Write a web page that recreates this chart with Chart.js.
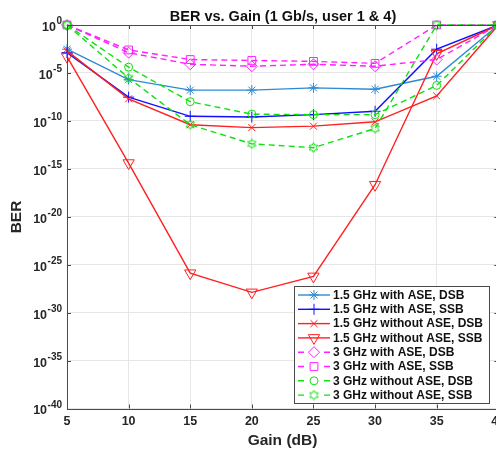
<!DOCTYPE html>
<html>
<head>
<meta charset="utf-8">
<script src="https://cdn.jsdelivr.net/npm/chart.js@4.4.1/dist/chart.umd.min.js"></script>
<style>
html,body{margin:0;padding:0;background:#fff;overflow:hidden;width:496px;height:449px;}
#wrap{position:absolute;left:0;top:0;width:506px;height:449px;}
</style>
</head>
<body>
<div id="wrap"><canvas id="c" width="506" height="449"></canvas></div>
<script>
// ---- data ----
const gains = [5, 10, 15, 20, 25, 30, 35, 40];
const xTicks = [5, 10, 15, 20, 25, 30, 35, 40];
const yTickExponents = [0, -5, -10, -15, -20, -25, -30, -35, -40];
const seriesNames = [
  '1.5 GHz with ASE, DSB',
  '1.5 GHz with ASE, SSB',
  '1.5 GHz without ASE, DSB',
  '1.5 GHz without ASE, SSB',
  '3 GHz with ASE, DSB',
  '3 GHz with ASE, SSB',
  '3 GHz without ASE, DSB',
  '3 GHz without ASE, SSB'
];
const ber15AseDsb   = [3e-3, 2e-6, 1.6e-7, 1.6e-7, 2.8e-7, 2e-7, 4.5e-6, 1];
const ber15AseSsb   = [1.3e-3, 3e-8, 3e-10, 2.5e-10, 4.5e-10, 1e-9, 3e-3, 1];
const ber15NoAseDsb = [2e-3, 2e-8, 4e-11, 2e-11, 2.8e-11, 8e-11, 4e-8, 1];
const ber15NoAseSsb = [5e-4, 4e-15, 1.3e-26, 1.3e-28, 6e-27, 2.2e-17, 1e-3, 1];
const ber3AseDsb    = [1, 1.3e-3, 8e-5, 5e-5, 8e-5, 5e-5, 2.5e-4, 1];
const ber3AseSsb    = [1, 2.5e-3, 2.5e-4, 2e-4, 1.6e-4, 1e-4, 1, 1];
const ber3NoAseDsb  = [1, 4e-5, 1e-8, 5e-10, 4.5e-10, 4.5e-10, 5e-7, 1];
const ber3NoAseSsb  = [1, 3e-6, 4e-11, 4e-13, 1.6e-13, 1.6e-11, 1, 1];

const allSeries = [ber15AseDsb, ber15AseSsb, ber15NoAseDsb, ber15NoAseSsb,
                   ber3AseDsb, ber3AseSsb, ber3NoAseDsb, ber3NoAseSsb];

// ---- styles ----
const colors = ['#2f8ad4', '#1010ff', '#ff2020', '#ff2020', '#ff22ff', '#ff22ff', '#10e010', '#10e010'];
const dashed = [false, false, false, false, true, true, true, true];
const FONT = '"Liberation Sans", Arial, Helvetica, sans-serif';

function hexagramCanvas(color) {
  const c = document.createElement('canvas');
  c.width = 11; c.height = 11;
  const g = c.getContext('2d');
  g.strokeStyle = color; g.lineWidth = 1;
  const cx = 5.5, cy = 5.5, R = 4.8, r = 2.8;
  g.beginPath();
  for (let i = 0; i < 12; i++) {
    const a = -Math.PI / 2 + i * Math.PI / 6;
    const rr = i % 2 === 0 ? R : r;
    const px = cx + rr * Math.cos(a), py = cy + rr * Math.sin(a);
    if (i === 0) g.moveTo(px, py); else g.lineTo(px, py);
  }
  g.closePath(); g.stroke();
  return c;
}
const hexImg = hexagramCanvas('#10e010');

const markers = [
  {style: 'star', r: 5, rot: 0},
  {style: 'cross', r: 5.5, rot: 0},
  {style: 'crossRot', r: 5, rot: 0},
  {style: 'triangle', r: 6.5, rot: 180},
  {style: 'rectRot', r: 5.5, rot: 0},
  {style: 'rect', r: 5.5, rot: 0},
  {style: 'circle', r: 4, rot: 0},
  {style: hexImg, r: 5, rot: 0}
];

const datasets = allSeries.map((vals, i) => ({
  label: seriesNames[i],
  data: gains.map((g, k) => ({x: g, y: vals[k]})),
  borderColor: colors[i],
  backgroundColor: 'rgba(0,0,0,0)',
  borderWidth: 1.4,
  borderDash: dashed[i] ? [6, 4] : [],
  pointStyle: markers[i].style,
  pointRadius: markers[i].r,
  pointRotation: markers[i].rot,
  pointBorderWidth: 1,
  pointBorderColor: colors[i],
  pointBackgroundColor: 'rgba(0,0,0,0)',
  tension: 0,
  clip: false,
  order: 8 - i
}));

function drawMarker(ctx, i, x, y) {
  const m = markers[i];
  if (typeof m.style !== 'string') { ctx.drawImage(m.style, x - 5.5, y - 5.5); return; }
  Chart.helpers.drawPoint(ctx, {pointStyle: m.style, radius: m.r, rotation: m.rot, borderWidth: 1}, x, y);
}

const decor = {
  id: 'decor',
  beforeDraw(chart) {
    const ctx = chart.ctx;
    ctx.save(); ctx.fillStyle = '#fff'; ctx.fillRect(0, 0, chart.width, chart.height); ctx.restore();
  },
  afterDraw(chart) {
    const ctx = chart.ctx, a = chart.chartArea;
    const xs = chart.scales.x, ys = chart.scales.y;
    ctx.save();
    // box
    ctx.strokeStyle = '#4a4a4a'; ctx.lineWidth = 1;
    ctx.strokeRect(Math.round(a.left) + 0.5, Math.round(a.top) + 0.5,
                   Math.round(a.right - a.left), Math.round(a.bottom - a.top));
    // ticks inward
    ctx.beginPath();
    xTicks.forEach(t => {
      const px = Math.round(xs.getPixelForValue(t)) + 0.5;
      ctx.moveTo(px, a.bottom); ctx.lineTo(px, a.bottom - 4);
      ctx.moveTo(px, a.top); ctx.lineTo(px, a.top + 4);
    });
    yTickExponents.forEach(e => {
      const py = Math.round(ys.getPixelForValue(Math.pow(10, e))) + 0.5;
      ctx.moveTo(a.left, py); ctx.lineTo(a.left + 4, py);
      ctx.moveTo(a.right, py); ctx.lineTo(a.right - 4, py);
    });
    ctx.stroke();
    // x tick labels
    ctx.fillStyle = '#262626';
    ctx.font = 'bold 12.5px ' + FONT;
    ctx.textAlign = 'center'; ctx.textBaseline = 'middle';
    xTicks.forEach(t => ctx.fillText(String(t), xs.getPixelForValue(t), 421.5));
    // y tick labels 10^e
    yTickExponents.forEach(e => {
      const py = ys.getPixelForValue(Math.pow(10, e));
      const expStr = e === 0 ? '0' : '-' + String(-e);
      ctx.font = 'bold 10px ' + FONT;
      ctx.textAlign = 'right'; ctx.textBaseline = 'middle';
      const w = ctx.measureText(expStr).width;
      ctx.fillText(expStr, 62, py - 3.5);
      ctx.font = 'bold 12.5px ' + FONT;
      ctx.fillText('10', 62 - w - 0.5, py + 2.5);
    });
    // axis titles
    ctx.font = 'bold 15.5px ' + FONT;
    ctx.textAlign = 'center'; ctx.textBaseline = 'middle';
    ctx.fillText('Gain (dB)', 282.5, 441);
    ctx.save();
    ctx.translate(17, 217); ctx.rotate(-Math.PI / 2);
    ctx.fillText('BER', 0, 0);
    ctx.restore();
    // title
    ctx.fillStyle = '#111';
    ctx.font = 'bold 14.5px ' + FONT;
    ctx.fillText('BER vs. Gain (1 Gb/s, user 1 & 4)', 283, 16.5);
    // legend
    const lx = 294, ly = 286, lw = 195, lh = 117;
    ctx.fillStyle = '#fff';
    ctx.fillRect(lx, ly, lw, lh);
    ctx.strokeStyle = '#4a4a4a'; ctx.lineWidth = 1;
    ctx.strokeRect(lx + 0.5, ly + 0.5, lw, lh);
    seriesNames.forEach((name, i) => {
      const y = 295 + i * 14.3;
      ctx.save();
      ctx.strokeStyle = colors[i]; ctx.lineWidth = 1.4;
      ctx.setLineDash(dashed[i] ? [6, 4] : []);
      ctx.beginPath();
      if (dashed[i]) {
        ctx.moveTo(298, y); ctx.lineTo(304, y);
        ctx.moveTo(324, y); ctx.lineTo(330, y);
      } else {
        ctx.moveTo(298, y); ctx.lineTo(330, y);
      }
      ctx.stroke();
      ctx.setLineDash([]);
      ctx.fillStyle = 'rgba(0,0,0,0)';
      ctx.lineWidth = 1;
      drawMarker(ctx, i, 314, y);
      ctx.restore();
      ctx.fillStyle = '#111';
      ctx.font = 'bold 12px ' + FONT;
      ctx.textAlign = 'left'; ctx.textBaseline = 'middle';
      ctx.fillText(name, 333, y + 0.5);
    });
    ctx.restore();
  }
};

new Chart(document.getElementById('c'), {
  type: 'line',
  data: {datasets},
  options: {
    responsive: false,
    animation: false,
    events: [],
    layout: {padding: {top: 25, right: 506 - 498.3, left: 0, bottom: 0}},
    plugins: {legend: {display: false}, title: {display: false}, tooltip: {enabled: false}},
    scales: {
      x: {
        type: 'linear', min: 5, max: 40,
        afterBuildTicks: s => { s.ticks = xTicks.map(v => ({value: v})); },
        ticks: {display: false},
        grid: {color: '#e6e6e6', lineWidth: 1, drawTicks: false},
        border: {display: false},
        afterFit: s => { s.height = 449 - 408.5; }
      },
      y: {
        type: 'logarithmic', min: 1e-40, max: 1,
        afterBuildTicks: s => { s.ticks = yTickExponents.map(e => ({value: Math.pow(10, e)})); },
        ticks: {display: false},
        grid: {color: '#e6e6e6', lineWidth: 1, drawTicks: false},
        border: {display: false},
        afterFit: s => { s.width = 67; }
      }
    }
  },
  plugins: [decor]
});
</script>
</body>
</html>
